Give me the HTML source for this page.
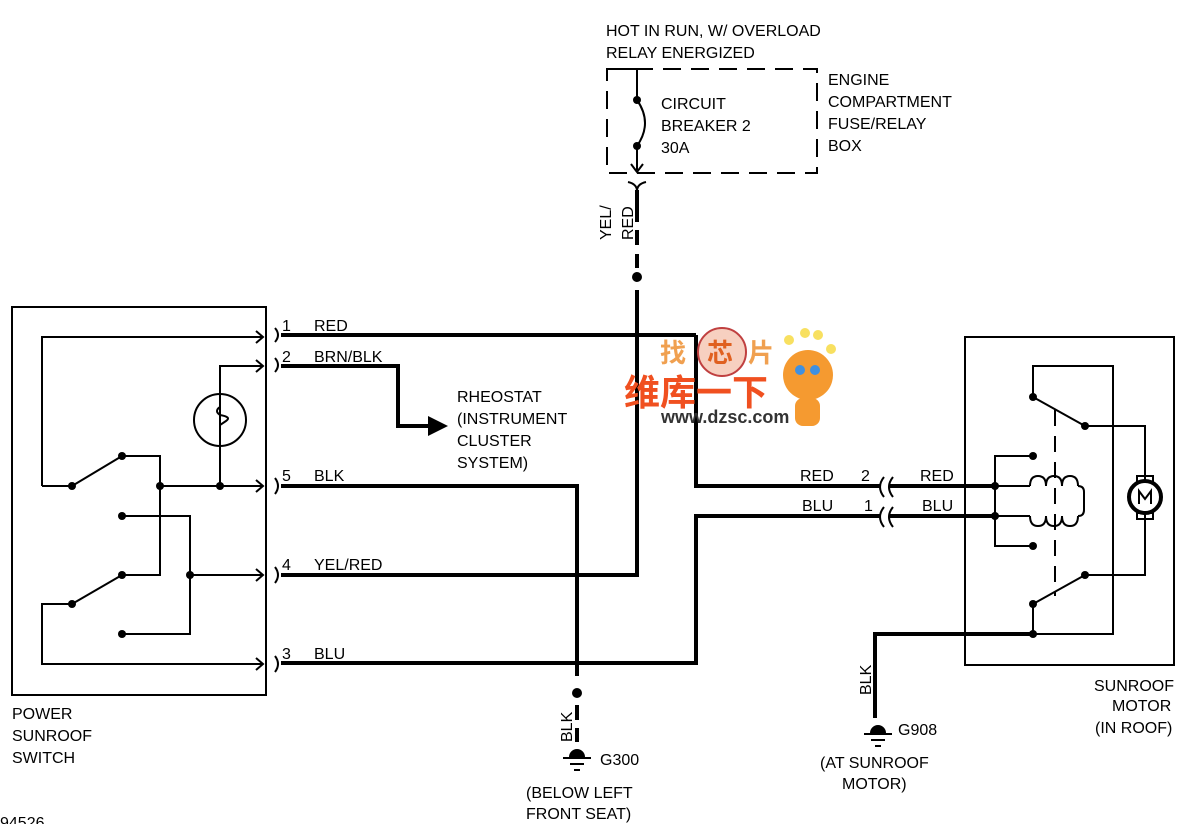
<!DOCTYPE html>
<html><head><meta charset="utf-8"><style>
html,body{margin:0;padding:0;background:#fff;}
svg{display:block;}
text{font-family:"Liberation Sans","Noto Sans CJK SC",sans-serif;font-size:16px;fill:#000;}
</style></head><body>
<svg width="1181" height="824" viewBox="0 0 1181 824" xmlns="http://www.w3.org/2000/svg">
<g fill="none" stroke="#000" stroke-width="2">
<rect x="12" y="307" width="254" height="388"/>
<polyline points="42,486 42,337 262,337"/>
<polyline points="220,486 220,366 262,366"/>
<circle cx="220" cy="420" r="26"/>
<path d="M220,394 v13 q-6,4 0,8 q12,2 6,6 q-6,4 -6,4 v25" />
<line x1="42" y1="486" x2="72" y2="486"/>
<line x1="72" y1="486" x2="122" y2="456"/>
<polyline points="122,456 160,456 160,575 122,575"/>
<line x1="160" y1="486" x2="262" y2="486"/>
<polyline points="122,516 190,516 190,634 122,634"/>
<line x1="190" y1="575" x2="262" y2="575"/>
<line x1="72" y1="604" x2="122" y2="575"/>
<polyline points="72,604 42,604 42,664 262,664"/>
<path d="M256,331 l7,6 -7,6 M256,360 l7,6 -7,6 M256,480 l7,6 -7,6 M256,569 l7,6 -7,6 M256,658 l7,6 -7,6"/>
<path d="M275,328 q6,7 0,14 M275,358 q6,7 0,14 M275,478 q6,8 0,16 M275,567 q6,8 0,16 M275,656 q6,8 0,16"/>
<rect x="607" y="69" width="210" height="104" stroke-dasharray="18,10"/>
<polyline points="607,69 637,69 637,100"/>
<path d="M637,100 q16,23 0,46"/>
<line x1="637" y1="146" x2="637" y2="170"/>
<path d="M631,164 l6,8 6,-8"/>
<path d="M628,182 q9,2 9,9 q0,-7 9,-9"/>
<rect x="965" y="337" width="209" height="328"/>
<polyline points="1033,397 1033,366 1113,366 1113,634 1033,634"/>
<line x1="1033" y1="397" x2="1085" y2="426"/>
<polyline points="1085,426 1145,426 1145,480"/>
<polyline points="1145,514 1145,575 1085,575"/>
<line x1="1085" y1="575" x2="1033" y2="604"/>
<line x1="1033" y1="604" x2="1033" y2="634"/>
<polyline points="1033,456 995,456 995,546 1033,546"/>
<line x1="995" y1="486" x2="1030" y2="486"/>
<line x1="995" y1="516" x2="1030" y2="516"/>
<path d="M1030,486 q0,-10 8,-10 q8,0 8,10 q0,-10 8,-10 q8,0 8,10 q0,-10 8,-10 q8,0 8,10 M1030,516 q0,10 8,10 q8,0 8,-10 q0,10 8,10 q8,0 8,-10 q0,10 8,10 q8,0 8,-10 M1078,486 q6,0 6,6 v18 q0,6 -6,6"/>
<line x1="1055" y1="410" x2="1055" y2="596" stroke-dasharray="16,10"/>
<rect x="1137" y="476" width="16" height="6"/>
<rect x="1137" y="513" width="16" height="6"/>
<path d="M1139,504 v-13 l6,8 6,-8 v13"/>
<path d="M884,477 q-8,10 0,20 M893,477 q-8,10 0,20 M884,507 q-8,10 0,20 M893,507 q-8,10 0,20"/>
<path d="M563,758 h28 M570,764 h14 M574,770 h6 M864,734 h28 M871,740 h14 M875,746 h6"/>
</g>
<circle cx="1145" cy="497" r="16" fill="none" stroke="#000" stroke-width="4"/>
<g fill="none" stroke="#000" stroke-width="4">
<line x1="281" y1="335" x2="696" y2="335"/>
<polyline points="696,335 696,486 880,486"/>
<line x1="890" y1="486" x2="995" y2="486"/>
<polyline points="281,366 398,366 398,426 432,426"/>
<polyline points="281,486 577,486 577,676"/>
<polyline points="281,575 637,575 637,290"/>
<polyline points="281,663 696,663 696,516 880,516"/>
<line x1="890" y1="516" x2="995" y2="516"/>
<polyline points="1033,634 875,634 875,718"/>
<line x1="637" y1="190" x2="637" y2="222"/>
<line x1="637" y1="230" x2="637" y2="245"/>
<line x1="637" y1="254" x2="637" y2="268"/>
<line x1="577" y1="705" x2="577" y2="720"/>
<line x1="577" y1="728" x2="577" y2="742"/>
</g>
<polygon points="428,416 448,426 428,436" fill="#000"/>
<g fill="#000">
<circle cx="72" cy="486" r="4"/><circle cx="122" cy="456" r="4"/><circle cx="160" cy="486" r="4"/><circle cx="220" cy="486" r="4"/>
<circle cx="122" cy="516" r="4"/><circle cx="190" cy="575" r="4"/><circle cx="122" cy="575" r="4"/><circle cx="72" cy="604" r="4"/><circle cx="122" cy="634" r="4"/>
<circle cx="637" cy="100" r="4"/><circle cx="637" cy="146" r="4"/><circle cx="637" cy="277" r="5"/><circle cx="577" cy="693" r="5"/>
<circle cx="1033" cy="397" r="4"/><circle cx="1085" cy="426" r="4"/><circle cx="1033" cy="456" r="4"/><circle cx="995" cy="486" r="4"/><circle cx="995" cy="516" r="4"/>
<circle cx="1033" cy="546" r="4"/><circle cx="1085" cy="575" r="4"/><circle cx="1033" cy="604" r="4"/><circle cx="1033" cy="634" r="4"/>
<path d="M569,757 a8,8 0 0 1 16,0 z"/><path d="M870,733 a8,8 0 0 1 16,0 z"/>
</g>
<text x="606" y="36">HOT IN RUN, W/ OVERLOAD</text>
<text x="606" y="58">RELAY ENERGIZED</text>
<text x="661" y="109">CIRCUIT</text>
<text x="661" y="131">BREAKER 2</text>
<text x="661" y="153">30A</text>
<text x="828" y="85">ENGINE</text>
<text x="828" y="107">COMPARTMENT</text>
<text x="828" y="129">FUSE/RELAY</text>
<text x="828" y="151">BOX</text>
<text transform="translate(611,240) rotate(-90)">YEL/</text>
<text transform="translate(633,240) rotate(-90)">RED</text>
<text x="282" y="331" font-size="12">1</text><text x="314" y="331">RED</text>
<text x="282" y="362" font-size="12">2</text><text x="314" y="362">BRN/BLK</text>
<text x="282" y="481" font-size="12">5</text><text x="314" y="481">BLK</text>
<text x="282" y="570" font-size="12">4</text><text x="314" y="570">YEL/RED</text>
<text x="282" y="659" font-size="12">3</text><text x="314" y="659">BLU</text>
<text x="457" y="402">RHEOSTAT</text>
<text x="457" y="424">(INSTRUMENT</text>
<text x="457" y="446">CLUSTER</text>
<text x="457" y="468">SYSTEM)</text>
<text x="800" y="481">RED</text><text x="861" y="481">2</text><text x="920" y="481">RED</text>
<text x="802" y="511">BLU</text><text x="864" y="511">1</text><text x="922" y="511">BLU</text>
<text x="12" y="719">POWER</text>
<text x="12" y="741">SUNROOF</text>
<text x="12" y="763">SWITCH</text>
<text x="1094" y="691">SUNROOF</text>
<text x="1112" y="711">MOTOR</text>
<text x="1095" y="733">(IN ROOF)</text>
<text transform="translate(572,742) rotate(-90)">BLK</text>
<text transform="translate(871,695) rotate(-90)">BLK</text>
<text x="600" y="765">G300</text>
<text x="898" y="735">G908</text>
<text x="526" y="798">(BELOW LEFT</text>
<text x="526" y="819">FRONT SEAT)</text>
<text x="820" y="768">(AT SUNROOF</text>
<text x="842" y="789">MOTOR)</text>
<text x="0" y="828" font-size="12">94526</text>
<text x="660" y="362" style="font-size:26px;font-weight:bold;fill:#f0a050;">找</text>
<circle cx="722" cy="352" r="24" fill="#f7d0c0" stroke="#c04040" stroke-width="2"/>
<text x="707" y="362" style="font-size:26px;font-weight:bold;fill:#e06020;">芯</text>
<text x="748" y="362" style="font-size:26px;font-weight:bold;fill:#f0a050;">片</text>
<text x="624" y="405" style="font-size:36px;font-weight:bold;fill:#f05020;">维库一下</text>
<text x="661" y="423" style="font-size:18px;font-weight:bold;fill:#333;">www.dzsc.com</text>
<circle cx="808" cy="375" r="25" fill="#f59a30"/>
<circle cx="800" cy="370" r="5" fill="#4090e0"/><circle cx="815" cy="370" r="5" fill="#4090e0"/>
<circle cx="805" cy="333" r="5" fill="#f8e060"/><circle cx="818" cy="335" r="5" fill="#f8e060"/><circle cx="831" cy="349" r="5" fill="#f8e060"/><circle cx="789" cy="340" r="5" fill="#f8e060"/>
<rect x="795" y="398" width="25" height="28" rx="8" fill="#f59a30"/>
</svg>
</body></html>
